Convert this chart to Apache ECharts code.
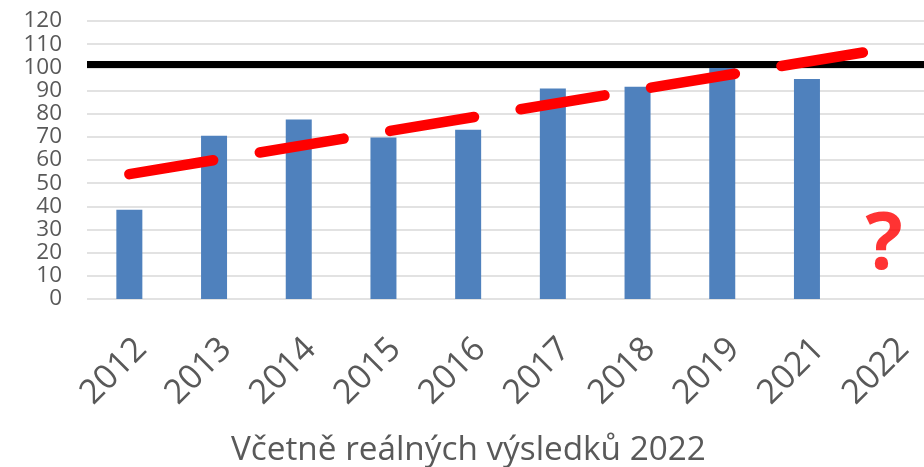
<!DOCTYPE html>
<html>
<head>
<meta charset="utf-8">
<script src="https://cdn.jsdelivr.net/npm/echarts@6/dist/echarts.min.js"></script>
<style>html,body{margin:0;padding:0;background:#fff}#c{width:924px;height:467px}</style>
</head>
<body>
<div id="c"></div>
<script>
const categories = ['2012','2013','2014','2015','2016','2017','2018','2019','2021','2022'];
const barValues = [38.5, 70.5, 77.5, 69.7, 73.1, 90.9, 91.6, 100, 95, null];
const yTicks = [0,10,20,30,40,50,60,70,80,90,100,110,120];
const referenceLevel = 101.2;
const trendLine = [[0, 53.9], [8.66, 106.4]];
const questionMark = [[8.91, 22.5]];
const titleText = 'Včetně reálných výsledků 2022';

const chart = echarts.init(document.getElementById('c'));
const font = '"Open Sans", sans-serif';
chart.setOption({
  animation: false,
  title: {
    text: titleText,
    left: 226, top: 429,
    textStyle: { fontFamily: font, fontSize: 33.3, fontWeight: 'normal', color: '#595959' }
  },
  grid: { left: 87, width: 847, top: 21, height: 278, containLabel: false, outerBoundsMode: 'none' },
  xAxis: [{
    type: 'category', data: categories,
    axisLine: { show: false }, axisTick: { show: false },
    axisLabel: { interval: 0, rotate: 45, margin: 33, verticalAlign: 'top',
      fontFamily: font, fontSize: 34, lineHeight: 34, color: '#595959' }
  }, {
    type: 'value', min: -0.5, max: 9.5, show: false
  }],
  yAxis: {
    type: 'value', min: yTicks[0], max: yTicks[yTicks.length - 1], interval: 10,
    axisLine: { show: false }, axisTick: { show: false },
    axisLabel: { margin: 25, fontFamily: font, fontSize: 22.5, lineHeight: 18, color: '#595959',
      showMinLabel: true, showMaxLabel: true, hideOverlap: false },
    splitLine: { lineStyle: { color: '#D9D9D9', width: 1.5 } }
  },
  series: [{
    type: 'bar', data: barValues, barWidth: 26, xAxisIndex: 0,
    itemStyle: { color: '#4F81BD' },
    markLine: {
      silent: true, symbol: 'none', label: { show: false },
      lineStyle: { color: '#000', width: 7, type: 'solid' },
      data: [{ yAxis: referenceLevel }]
    }
  }, {
    type: 'line', xAxisIndex: 1, data: trendLine, symbol: 'none', z: 5,
    lineStyle: { color: '#FF0000', width: 10.5, cap: 'round', type: [85, 47.2] }
  }, {
    type: 'scatter', xAxisIndex: 1, data: questionMark, symbolSize: 0, z: 6,
    label: { show: true, position: 'inside', formatter: '?', fontFamily: font,
      fontWeight: 'bold', fontSize: 78, color: '#FF0000' }
  }]
});
</script>
</body>
</html>
